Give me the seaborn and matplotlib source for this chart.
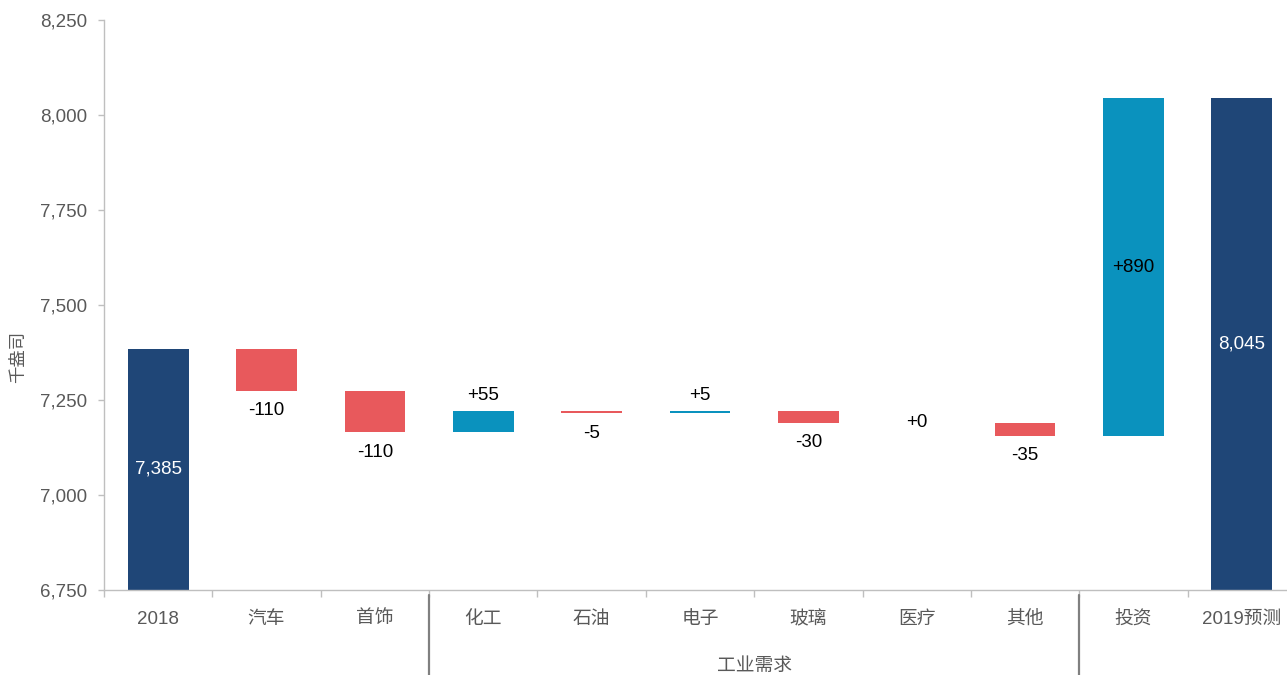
import matplotlib
matplotlib.use("Agg")
import matplotlib.pyplot as plt
import matplotlib.transforms as mtransforms
from matplotlib.ticker import FuncFormatter, FixedLocator
import numpy as np
import seaborn as sns

# Waterfall data: opening total, changes by sector, closing total
categories = ["2018", "汽车", "首饰", "化工", "石油", "电子", "玻璃", "医疗", "其他", "投资", "2019预测"]
start_total = 7385
changes = [-110, -110, 55, -5, 5, -30, 0, -35, 890]
end_total = 8045
y_ticks = [6750, 7000, 7250, 7500, 7750, 8000, 8250]
group_label = "工业需求"
y_label = "千盎司"

NAVY = "#1F4677"
RED = "#E8595C"
TEAL = "#0A92BE"
GREY_TXT = "#595959"
FLOOR = 6750

sns.set_theme(style="white")
plt.rcParams["font.family"] = ["Liberation Sans", "Noto Sans CJK SC", "DejaVu Sans"]

# Build bar bottoms / heights from the running total
levels = [start_total]
for c in changes:
    levels.append(levels[-1] + c)
bottoms = [FLOOR]  # total bars rise from the axis floor
heights = [start_total - FLOOR]
colors = [NAVY]
for i, c in enumerate(changes):
    bottoms.append(min(levels[i], levels[i + 1]))
    heights.append(abs(c))
    if i == len(changes) - 1:
        colors.append(TEAL)
    else:
        colors.append(TEAL if c > 0 else RED)
bottoms.append(FLOOR)
heights.append(end_total - FLOOR)
colors.append(NAVY)

fig = plt.figure(figsize=(12.87, 6.75), dpi=100)
ax = fig.add_axes([104 / 1287, 85 / 675, (1287 - 104) / 1287, 570 / 675])

sns.barplot(x=categories, y=heights, bottom=bottoms, color=NAVY, width=0.56,
            saturation=1, ax=ax)
for p, col in zip(ax.patches, colors):
    p.set_facecolor(col)
    p.set_edgecolor("none")

# Value labels
fs = 13.5
ax.text(0, (FLOOR + start_total) / 2, f"{start_total:,}", ha="center", va="center",
        color="white", fontsize=fs)
ax.text(10, (FLOOR + end_total) / 2, f"{end_total:,}", ha="center", va="center",
        color="white", fontsize=fs)
for i, c in enumerate(changes):
    x = i + 1
    lab = f"+{c}" if c >= 0 else f"{c}"
    if i == len(changes) - 1:
        ax.text(x, (levels[i] + levels[i + 1]) / 2, lab, ha="center", va="center",
                color="black", fontsize=fs)
    elif c > 0:
        ax.text(x, max(levels[i], levels[i + 1]) + 43, lab, ha="center", va="center",
                color="black", fontsize=fs)
    elif c < 0:
        ax.text(x, min(levels[i], levels[i + 1]) - 52, lab, ha="center", va="center",
                color="black", fontsize=fs)
    else:
        ax.text(x, levels[i], lab, ha="center", va="center", color="black", fontsize=fs)

# Axes styling
for s in ["top", "right"]:
    ax.spines[s].set_visible(False)
ax.spines["left"].set_color("#BFBFBF")
ax.spines["bottom"].set_color("#BFBFBF")
ax.spines["left"].set_linewidth(1)
ax.spines["bottom"].set_linewidth(1)

ax.yaxis.set_major_locator(FixedLocator(y_ticks))
ax.yaxis.set_major_formatter(FuncFormatter(lambda v, p: f"{int(v):,}"))
ax.tick_params(axis="y", which="major", left=True, length=4, width=1, color="#BFBFBF",
               pad=8, labelsize=13.5, labelcolor=GREY_TXT)
ax.tick_params(axis="x", which="major", bottom=False, length=0, pad=15,
               labelsize=13.5, labelcolor=GREY_TXT)
ax.set_xticks(np.arange(-0.5, 11, 1.0), minor=True)
ax.tick_params(axis="x", which="minor", bottom=True, length=5, width=1, color="#BFBFBF")
ax.set_xlabel("")
ax.set_ylabel("")

ax.set_ylim(FLOOR, 8250)
ax.set_xlim(-0.5, 10.5 - 9 / 108.4)

fig.text(18 / 1287, 1 - 357 / 675, y_label, rotation=90, ha="center", va="center",
         color=GREY_TXT, fontsize=12.5)

# Group separators below the category axis
trans = mtransforms.blended_transform_factory(ax.transData, ax.transAxes)
for xs in (2.5, 8.5):
    ax.plot([xs, xs], [-5 / 570, -85 / 570], transform=trans, color="#808080",
            lw=1.6, clip_on=False)
ax.text(5.5, -76 / 570, group_label, transform=trans, ha="center", va="center",
        color=GREY_TXT, fontsize=13.5)

fig.savefig("out.png", dpi=100)
